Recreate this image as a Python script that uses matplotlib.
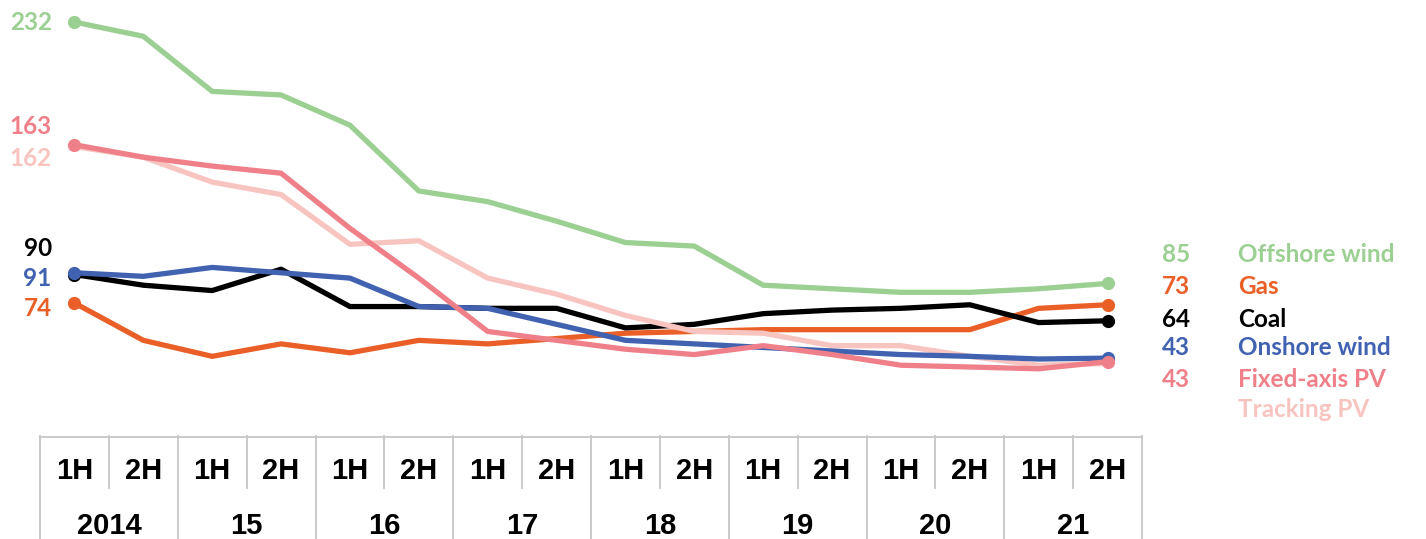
import matplotlib
matplotlib.use("Agg")
import matplotlib.pyplot as plt
import numpy as np

# half-year periods, 2014 1H .. 2021 2H
halves = ["1H", "2H"] * 8
years = ["2014", "15", "16", "17", "18", "19", "20", "21"]

offshore = [232, 224, 193, 191, 174, 137, 131, 120, 108, 106, 84, 82, 80, 80, 82, 85]
gas = [74, 53, 44, 51, 46, 53, 51, 54, 57, 58, 59, 59, 59, 59, 71, 73]
coal = [90, 84, 81, 93, 72, 72, 71, 71, 60, 62, 68, 70, 71, 73, 63, 64]
onshore = [91, 89, 94, 91, 88, 72, 71, 62, 53, 51, 49, 47, 45, 44, 42.5, 43]
fixed_pv = [163, 156, 151, 147, 116, 88, 58, 53, 48, 45, 50, 45, 39, 38, 37, 41]
tracking_pv = [162, 156, 142, 135, 107, 109, 88, 79, 67, 58, 57, 50, 50, 44, 39, 40]

start_labels = ["232", "163", "162", "90", "91", "74"]
end_labels = ["85", "73", "64", "43", "43", ""]
names = ["Offshore wind", "Gas", "Coal", "Onshore wind", "Fixed-axis PV", "Tracking PV"]

green = "#9bd092"
orange = "#ea5f27"
black = "#000000"
blue = "#4062b0"
pink = "#ef808a"
lpink = "#f7c4c0"

W, H = 1426, 539
fig = plt.figure(figsize=(W / 100, H / 100), dpi=100)

# main axes: x from px 40 to 1142, y from px 0 to 436
ax = fig.add_axes([40 / W, (H - 436) / H, 1102 / W, 436 / H])
ax.set_xlim(-0.5, 15.5)
ax.set_ylim(-0.8, 244.4)
ax.axis("off")

x = np.arange(16)
series = [
    (gas, orange, 2),
    (coal, black, 3),
    (tracking_pv, lpink, 4),
    (onshore, blue, 5),
    (fixed_pv, pink, 6),
    (offshore, green, 7),
]
for vals, col, z in series:
    ax.plot(x, vals, color=col, lw=3.8, zorder=z)
    if col != lpink:
        ax.plot([x[0], x[-1]], [vals[0], vals[-1]], "o", color=col, ms=8.5, zorder=z)

lab_font = dict(family=["Lato", "DejaVu Sans"], fontweight="bold", fontsize=17.5)

# left value labels, nudged apart where lines start close together
left_specs = [
    (start_labels[0], offshore[0], green, 0),
    (start_labels[1], fixed_pv[0], pink, 10),
    (start_labels[2], tracking_pv[0], lpink, -6.5),
    (start_labels[3], coal[0], black, 14.4),
    (start_labels[4], onshore[0], blue, -3),
    (start_labels[5], gas[0], orange, -3),
]
for txt, v, col, dy in left_specs:
    ax.text(-0.33, v + dy, txt, color=col, ha="right", va="center", **lab_font)

# right side: value + series name
right_y = [101.5, 83, 64.5, 49, 31, 14]
right_cols = [green, orange, black, blue, pink, lpink]
for lab, nm, yy, col in zip(end_labels, names, right_y, right_cols):
    ax.text(16.2, yy, lab, color=col, ha="right", va="center", **lab_font)
    ax.text(16.9, yy, nm, color=col, ha="left", va="center", **lab_font)

# table-like x axis below
tab = fig.add_axes([40 / W, 0, 1102 / W, (H - 436) / H])
tab.set_xlim(-0.5, 15.5)
tab.set_ylim(103, 0)
tab.axis("off")
grid_col = "#c4c6c8"
tab.plot([-0.5, 15.5], [0.5, 0.5], color=grid_col, lw=1.3, clip_on=False)
for b in range(0, 17, 2):
    tab.plot([b - 0.5, b - 0.5], [0, 103], color=grid_col, lw=1.3, clip_on=False)
for b in range(1, 16, 2):
    tab.plot([b - 0.5, b - 0.5], [0, 52], color=grid_col, lw=1.3, clip_on=False)

tick_font = dict(family=["Liberation Sans", "DejaVu Sans"], fontweight="bold",
                 fontsize=21)
for i, h in enumerate(halves):
    tab.text(i, 35, h, ha="center", va="center", color="#000000", **tick_font)
for j, yr in enumerate(years):
    tab.text(2 * j + 0.5, 90, yr, ha="center", va="center", color="#000000", **tick_font)

fig.savefig("out.png", dpi=100)
